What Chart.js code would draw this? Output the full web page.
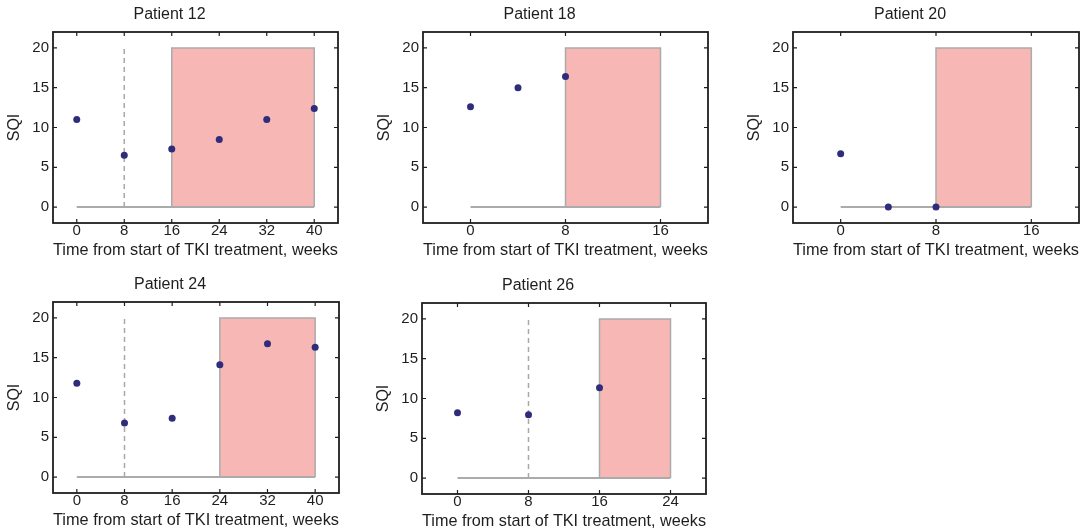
<!DOCTYPE html>
<html>
<head>
<meta charset="utf-8">
<script src="https://cdn.jsdelivr.net/npm/chart.js@4/dist/chart.umd.min.js"></script>
<style>
  html, body { margin: 0; padding: 0; background: #fff; overflow: hidden; }
  body { width: 1083px; height: 531px; position: relative; }
  canvas { position: absolute; }
</style>
</head>
<body>
<canvas id="c0"></canvas>
<canvas id="c1"></canvas>
<canvas id="c2"></canvas>
<canvas id="c3"></canvas>
<canvas id="c4"></canvas>
<script>
// datos
const titles = ['Patient 12', 'Patient 18', 'Patient 20', 'Patient 24', 'Patient 26'];

const weeks12 = [0, 8, 16, 24, 32, 40];
const sqi12 = [11.0, 6.5, 7.3, 8.5, 11.0, 12.4];
const weeks18 = [0, 4, 8];
const sqi18 = [12.6, 15.0, 16.4];
const weeks20 = [0, 4, 8];
const sqi20 = [6.7, 0, 0];
const weeks24 = [0, 8, 16, 24, 32, 40];
const sqi24 = [11.8, 6.8, 7.4, 14.1, 16.75, 16.3];
const weeks26 = [0, 8, 16];
const sqi26 = [8.2, 7.95, 11.35];

// zona sombreada (inicio, fin) y linea discontinua
const shadeStart = [16, 8, 8, 24, 16];
const shadeEnd = [40, 16, 16, 40, 24];
const shadeTop = 20;
const dashedAt = [8, null, null, 8, 8];

// ejes
const xMin = -4;
const xMax = [44, 20, 20, 44, 28];
const xTicks12 = [0, 8, 16, 24, 32, 40];
const xTicks18 = [0, 8, 16];
const xTicks26 = [0, 8, 16, 24];
const yTicks = [0, 5, 10, 15, 20];
const yMin = -2, yMax = 22;

const xTitle = 'Time from start of TKI treatment, weeks';
const yTitle = 'SQI';

const paneles = [
  { weeks: weeks12, sqi: sqi12, xTicks: xTicks12 },
  { weeks: weeks18, sqi: sqi18, xTicks: xTicks18 },
  { weeks: weeks20, sqi: sqi20, xTicks: xTicks18 },
  { weeks: weeks24, sqi: sqi24, xTicks: xTicks12 },
  { weeks: weeks26, sqi: sqi26, xTicks: xTicks26 }
];

// donde va cada area de grafico (izq, arriba, ancho, alto)
const areas = [
  [53, 32, 286, 191],
  [423, 32, 286, 191],
  [793, 32, 287, 191],
  [53, 302, 287, 191],
  [422, 303, 285, 191]
];

const FONT = "'Liberation Sans', Arial, sans-serif";
const INK = '#1e1e1e';

// marco negro con marcas hacia adentro en los 4 lados
const marco = {
  id: 'marco',
  afterDraw(chart) {
    const { ctx, chartArea: a, scales } = chart;
    const tl = 4;
    ctx.save();
    ctx.strokeStyle = INK;
    ctx.lineWidth = 1.8;
    ctx.strokeRect(a.left, a.top, a.right - a.left, a.bottom - a.top);
    ctx.lineWidth = 1.2;
    ctx.beginPath();
    scales.x.ticks.forEach(t => {
      const px = scales.x.getPixelForValue(t.value);
      ctx.moveTo(px, a.bottom); ctx.lineTo(px, a.bottom - tl);
      ctx.moveTo(px, a.top); ctx.lineTo(px, a.top + tl);
    });
    scales.y.ticks.forEach(t => {
      const py = scales.y.getPixelForValue(t.value);
      ctx.moveTo(a.left, py); ctx.lineTo(a.left + tl, py);
      ctx.moveTo(a.right, py); ctx.lineTo(a.right - tl, py);
    });
    ctx.stroke();
    ctx.restore();
  }
};

paneles.forEach((p, i) => {
  const [L, T, W, H] = areas[i];
  const cv = document.getElementById('c' + i);
  cv.width = W + 56;
  cv.height = H + 72;
  cv.style.left = (L - 53) + 'px';
  cv.style.top = (T - 32) + 'px';

  const datasets = [];
  datasets.push({
    data: p.weeks.map((w, k) => ({ x: w, y: p.sqi[k] })),
    showLine: false,
    pointRadius: 3.5,
    pointBackgroundColor: '#302c7c',
    pointBorderWidth: 0,
    order: 0
  });
  if (dashedAt[i] !== null) {
    datasets.push({
      data: [{ x: dashedAt[i], y: 0 }, { x: dashedAt[i], y: shadeTop }],
      borderColor: '#a8a8a8',
      borderWidth: 1.5,
      borderDash: [5, 4],
      pointRadius: 0,
      order: 2
    });
  }
  datasets.push({
    data: [{ x: 0, y: 0 }, { x: shadeEnd[i], y: 0 }],
    borderColor: '#ababab',
    borderWidth: 2,
    pointRadius: 0,
    order: 3
  });
  datasets.push({
    data: [
      { x: shadeStart[i], y: 0 }, { x: shadeStart[i], y: shadeTop },
      { x: shadeEnd[i], y: shadeTop }, { x: shadeEnd[i], y: 0 }
    ],
    borderColor: '#ababab',
    borderWidth: 1.5,
    backgroundColor: '#f7b7b5',
    fill: 'origin',
    pointRadius: 0,
    tension: 0,
    order: 4
  });

  new Chart(cv, {
    type: 'line',
    data: { datasets },
    plugins: [marco],
    options: {
      responsive: false,
      animation: false,
      devicePixelRatio: 1,
      layout: { padding: { left: 0, top: 0, right: 3, bottom: 0 } },
      plugins: {
        legend: { display: false },
        tooltip: { enabled: false },
        title: {
          display: true,
          text: titles[i],
          color: INK,
          font: { family: FONT, size: 16, weight: 'normal', lineHeight: 1 },
          padding: { top: 7, bottom: 9 }
        }
      },
      scales: {
        x: {
          type: 'linear',
          min: xMin,
          max: xMax[i],
          grid: { display: false, drawTicks: false },
          border: { display: false },
          afterBuildTicks: s => { s.ticks = p.xTicks.map(v => ({ value: v })); },
          afterFit: s => { s.height = 40; },
          ticks: {
            color: INK,
            padding: 0,
            maxRotation: 0,
            font: { family: FONT, size: 15, lineHeight: 1 }
          },
          title: {
            display: true,
            text: xTitle,
            color: INK,
            font: { family: FONT, size: 16.4, lineHeight: 1 },
            padding: { top: 0, bottom: 4 }
          }
        },
        y: {
          type: 'linear',
          min: yMin,
          max: yMax,
          grid: { display: false, drawTicks: false },
          border: { display: false },
          afterBuildTicks: s => { s.ticks = yTicks.map(v => ({ value: v })); },
          afterFit: s => { s.width = 53; },
          ticks: {
            color: INK,
            padding: 4,
            font: { family: FONT, size: 15 }
          },
          title: {
            display: true,
            text: yTitle,
            color: INK,
            font: { family: FONT, size: 16, lineHeight: 1 },
            padding: { top: 7, bottom: 0 }
          }
        }
      }
    }
  });
});
</script>
</body>
</html>
